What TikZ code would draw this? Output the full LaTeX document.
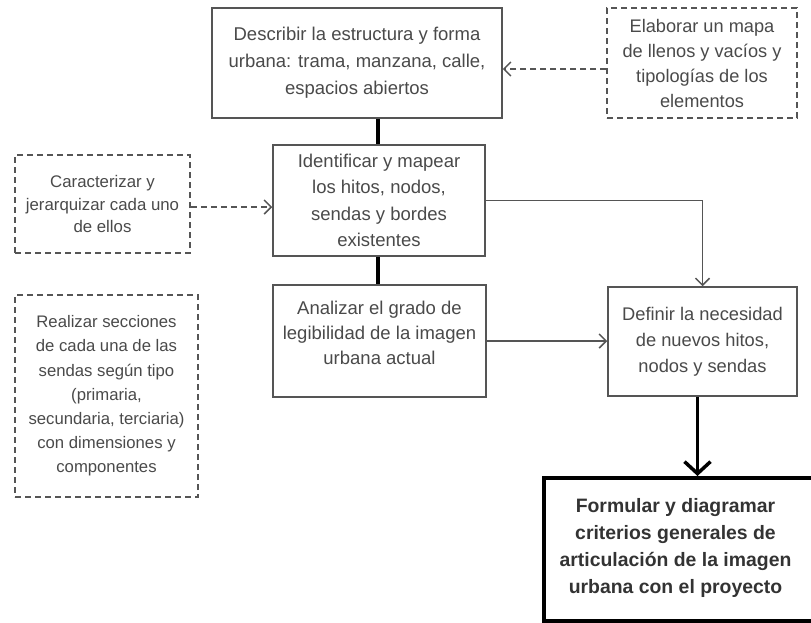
\documentclass[tikz,border=0pt]{standalone}
\usepackage{fontspec}
\setmainfont{Liberation Sans}
\usetikzlibrary{arrows.meta}
\definecolor{txt}{HTML}{4A4A4A}
\definecolor{edge}{HTML}{555555}
\begin{document}
\begin{tikzpicture}[x=1pt,y=-1pt,
  every node/.style={font=\fontsize{18.5}{27}\selectfont, text=txt, align=center, inner sep=0pt},
  solidbox/.style={draw=edge, line width=1.5pt, fill=white},
  dashbox/.style={draw=edge, line width=1.5pt, dash pattern=on 6pt off 4pt, fill=white},
  finalbox/.style={draw=black, line width=4pt, fill=white},
  thinarrow/.style={draw=edge, line width=1.5pt, -{Straight Barb[length=7pt,width=14pt,line width=1.5pt]}},
  dasharrow/.style={draw=edge, line width=1.5pt, dash pattern=on 6pt off 4pt,
    -{Straight Barb[length=7pt,width=14pt,line width=1.5pt]}},
  thickline/.style={draw=black, line width=3.5pt},
  thickarrow/.style={draw=black, line width=3.5pt, -{Straight Barb[length=12pt,width=26pt,line width=3.5pt]}}
]
\useasboundingbox (0,0) rectangle (811,622);
\clip (0,0) rectangle (811,622);

\node[solidbox, minimum width=290pt, minimum height=110pt] (A) at (357,63)
  {Describir la estructura y forma\\urbana: trama, manzana, calle,\\espacios abiertos};
\node[dashbox, minimum width=190pt, minimum height=110pt, font=\fontsize{18.2}{25}\selectfont] (B) at (702,63)
  {Elaborar un mapa\\de llenos y vacíos y\\tipologías de los\\elementos};
\node[solidbox, minimum width=212pt, minimum height=111pt, font=\fontsize{18.5}{26.5}\selectfont] (C) at (379,200.5)
  {Identificar y mapear\\los hitos, nodos,\\sendas y bordes\\existentes};
\node[dashbox, minimum width=175pt, minimum height=98pt, font=\fontsize{16.8}{22.5}\selectfont] (D) at (102.5,204)
  {Caracterizar y\\jerarquizar cada uno\\de ellos};
\node[solidbox, minimum width=213pt, minimum height=112pt,
  label={[yshift=8pt, font=\fontsize{18.5}{25}\selectfont]center:{Analizar el grado de\\legibilidad de la imagen\\urbana actual}}] (E) at (379.5,341) {};
\node[solidbox, minimum width=189pt, minimum height=109pt, font=\fontsize{18.3}{26}\selectfont] (F) at (702.5,341.5)
  {Definir la necesidad\\de nuevos hitos,\\nodos y sendas};
\node[dashbox, minimum width=183pt, minimum height=202pt, font=\fontsize{16.7}{24.2}\selectfont] (G) at (106.5,396)
  {Realizar secciones\\de cada una de las\\sendas según tipo\\(primaria,\\secundaria, terciaria)\\con dimensiones y\\componentes};
\node[finalbox, minimum width=273pt, minimum height=143pt, anchor=north west,
  label={[xshift=-5pt, yshift=2pt, text=black!80, font=\fontsize{19.4}{27}\selectfont\bfseries]center:{Formular y diagramar\\criterios generales de\\articulación de la imagen\\urbana con el proyecto}}] (H) at (542,476) {};

\draw[thickline] (A.south -| 378,0) -- (C.north -| 378,0);
\draw[thickline] (C.south -| 378,0) -- (E.north -| 378,0);
\draw[dasharrow] ([yshift=-6pt]B.west) -- ([yshift=-6pt]B.west -| A.east);
\draw[dasharrow] ([yshift=-3pt]D.east) -- ([yshift=-3pt]D.east -| C.west);
\draw[thinarrow] (C.east) -| (F.north);
\draw[thinarrow] (E.east) -- (E.east -| F.west);
\draw[thickarrow] ([xshift=-5pt]F.south) -- ([xshift=-5pt]F.south |- H.north);
\end{tikzpicture}
\end{document}
